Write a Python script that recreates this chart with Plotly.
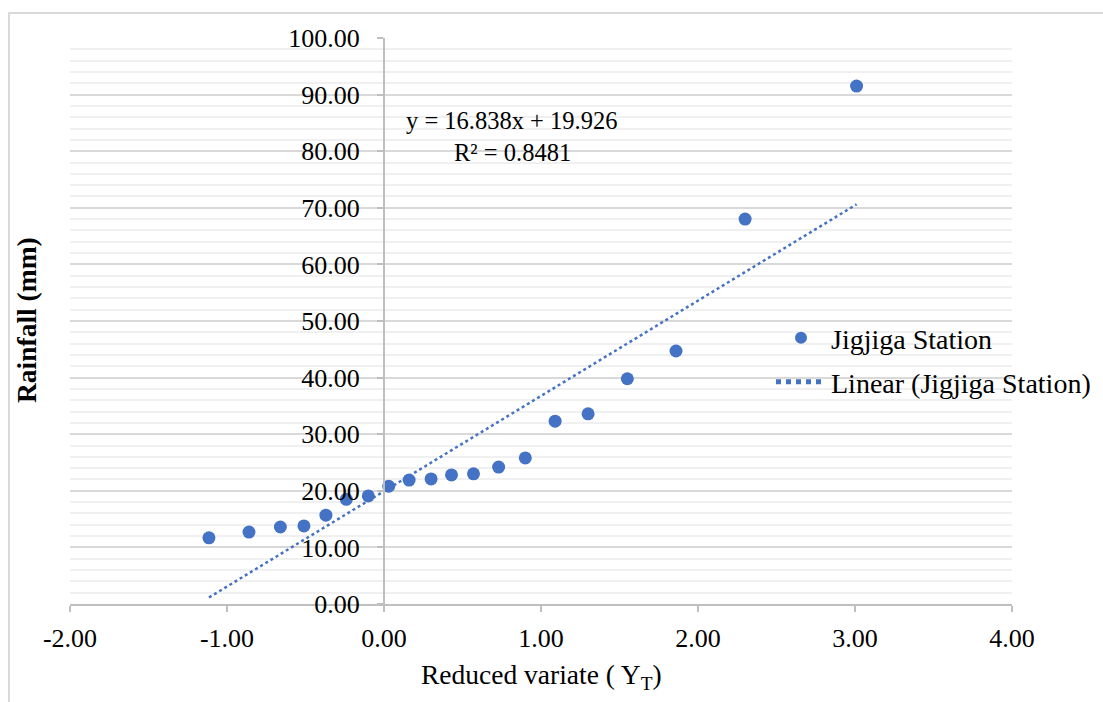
import plotly.graph_objects as go

# Data
reduced_variate = [-1.115, -0.86, -0.66, -0.51, -0.37, -0.24, -0.10, 0.03, 0.16, 0.30,
                   0.43, 0.57, 0.73, 0.90, 1.09, 1.30, 1.55, 1.86, 2.30, 3.01]
rainfall = [11.7, 12.7, 13.6, 13.8, 15.7, 18.5, 19.1, 20.8, 21.9, 22.1,
            22.8, 23.0, 24.2, 25.8, 32.3, 33.6, 39.8, 44.7, 68.0, 91.5]
slope = 16.838
intercept = 19.926
r_squared = 0.8481
x_ticks = [-2, -1, 0, 1, 2, 3, 4]
y_ticks = [0, 10, 20, 30, 40, 50, 60, 70, 80, 90, 100]

BLUE = "#4472C4"
FONT = "Liberation Serif"
FS_TICK = 26
FS_TITLE = 27.5
FS_LEG = 28
FS_EQ = 24.5

x_line = [min(reduced_variate), max(reduced_variate)]
y_line = [slope * v + intercept for v in x_line]

fig = go.Figure()
fig.add_trace(go.Scatter(
    x=reduced_variate, y=rainfall, mode="markers", name="Jigjiga Station",
    marker=dict(color=BLUE, size=13, line=dict(width=0)), legend="legend",
))
fig.add_trace(go.Scatter(
    x=x_line, y=y_line, mode="lines", name="Linear (Jigjiga Station)",
    line=dict(color=BLUE, width=2.5, dash="dot"), legend="legend2",
))

W, H = 1103, 702
ml, mr, mt, mb = 70, 91, 38, 98
pw, ph = W - ml - mr, H - mt - mb

def px_x(p):
    return (p - ml) / pw

def px_y(p):
    return (H - mb - p) / ph

leg_common = dict(
    xanchor="left", yanchor="middle",
    bgcolor="rgba(0,0,0,0)", font=dict(size=FS_LEG, family=FONT, color="#000000"),
    itemsizing="constant", itemwidth=50,
)

fig.update_layout(
    width=W, height=H,
    margin=dict(l=ml, r=mr, t=mt, b=mb, autoexpand=False),
    paper_bgcolor="white", plot_bgcolor="white",
    font=dict(family=FONT, size=FS_TICK, color="#000000"),
    showlegend=True,
    legend=dict(x=px_x(771), y=px_y(338), **leg_common),
    legend2=dict(x=px_x(771), y=px_y(382), **leg_common),
    xaxis=dict(
        range=[-2, 4], tickvals=x_ticks,
        ticktext=[f"{v:.2f}" for v in x_ticks],
        showgrid=False, zeroline=False, automargin=False,
        showline=True, linecolor="#bfbfbf", linewidth=2,
        ticks="outside", ticklen=6, tickcolor="#bfbfbf", tickwidth=2,
        ticklabelstandoff=4,
        tickfont=dict(size=FS_TICK, family=FONT),
    ),
    yaxis=dict(
        range=[0, 100], tickvals=y_ticks,
        ticktext=[f"{v:.2f}" for v in y_ticks],
        anchor="free", position=1/3, automargin=False,
        showgrid=True, gridcolor="#d9d9d9", gridwidth=2,
        minor=dict(dtick=2, showgrid=True, gridcolor="#f0f0f0", gridwidth=2),
        zeroline=False,
        showline=True, linecolor="#bfbfbf", linewidth=2,
        ticks="outside", ticklen=6, tickcolor="#bfbfbf", tickwidth=2,
        ticklabelstandoff=12,
        tickfont=dict(size=FS_TICK, family=FONT),
    ),
)

# X axis title
fig.add_annotation(
    x=px_x(541), y=px_y(676), xref="paper", yref="paper",
    text="Reduced variate ( Y<sub>T</sub>)", showarrow=False,
    font=dict(size=FS_TITLE, family=FONT), xanchor="center", yanchor="middle",
)

# Y axis title (placed at far left as in the reference)
fig.add_annotation(
    x=px_x(26), y=px_y(320), xref="paper", yref="paper",
    text="<b>Rainfall (mm)</b>", textangle=-90, showarrow=False,
    font=dict(size=FS_TITLE, family=FONT), xanchor="center", yanchor="middle",
)

# Trendline equation
fig.add_annotation(
    x=px_x(511), y=px_y(120), xref="paper", yref="paper",
    text=f"y = {slope}x + {intercept}", showarrow=False,
    font=dict(size=FS_EQ, family=FONT), xanchor="center", yanchor="middle",
)
fig.add_annotation(
    x=px_x(512), y=px_y(152), xref="paper", yref="paper",
    text=f"R² = {r_squared}", showarrow=False,
    font=dict(size=FS_EQ, family=FONT), xanchor="center", yanchor="middle",
)

# Chart border
fig.add_shape(
    type="rect", xref="paper", yref="paper",
    x0=px_x(9), x1=px_x(W + 20), y0=px_y(H + 20), y1=px_y(13),
    line=dict(color="#d9d9d9", width=2), fillcolor="rgba(0,0,0,0)", layer="below",
)

fig.write_html("out.html")
